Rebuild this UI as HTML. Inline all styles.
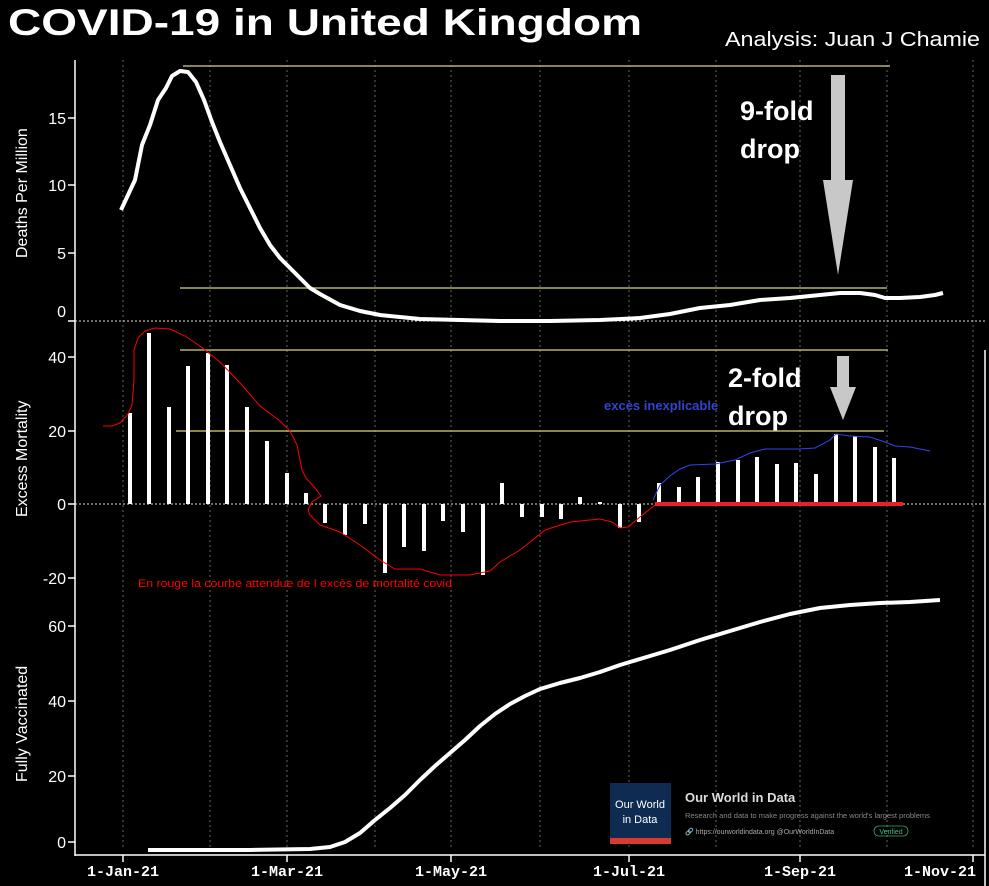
<!DOCTYPE html>
<html><head><meta charset="utf-8"><style>
body{margin:0;background:#000;}
svg{display:block;font-family:"Liberation Sans",sans-serif;}
</style></head><body>
<svg width="989" height="886" viewBox="0 0 989 886" xmlns="http://www.w3.org/2000/svg">
<rect width="989" height="886" fill="#000"/>
<g stroke="#666" stroke-width="1" stroke-dasharray="2,3">
<line x1="123" y1="60" x2="123" y2="850"/><line x1="210" y1="60" x2="210" y2="850"/>
<line x1="287" y1="60" x2="287" y2="850"/><line x1="375" y1="60" x2="375" y2="850"/>
<line x1="451" y1="60" x2="451" y2="850"/><line x1="540" y1="60" x2="540" y2="850"/>
<line x1="629" y1="60" x2="629" y2="850"/><line x1="716" y1="60" x2="716" y2="850"/>
<line x1="800" y1="60" x2="800" y2="850"/><line x1="887" y1="60" x2="887" y2="850"/>
<line x1="973" y1="60" x2="973" y2="850"/>
</g>
<line x1="75" y1="60" x2="75" y2="856" stroke="#fff" stroke-width="1.5"/>
<line x1="75" y1="855" x2="985" y2="855" stroke="#fff" stroke-width="1.5"/>
<line x1="985" y1="350" x2="985" y2="886" stroke="#fff" stroke-width="1.5"/>
<g stroke="#fff" stroke-width="1.5">
<line x1="68" y1="118" x2="75" y2="118"/><line x1="68" y1="185" x2="75" y2="185"/><line x1="68" y1="253" x2="75" y2="253"/><line x1="68" y1="321" x2="75" y2="321"/>
<line x1="68" y1="357" x2="75" y2="357"/><line x1="68" y1="431" x2="75" y2="431"/><line x1="68" y1="504" x2="75" y2="504"/><line x1="68" y1="578" x2="75" y2="578"/>
<line x1="68" y1="626" x2="75" y2="626"/><line x1="68" y1="701" x2="75" y2="701"/><line x1="68" y1="776" x2="75" y2="776"/><line x1="68" y1="842" x2="75" y2="842"/>
<line x1="123" y1="855" x2="123" y2="862"/><line x1="287" y1="855" x2="287" y2="862"/><line x1="451" y1="855" x2="451" y2="862"/><line x1="629" y1="855" x2="629" y2="862"/><line x1="800" y1="855" x2="800" y2="862"/><line x1="973" y1="855" x2="973" y2="862"/>
</g>
<line x1="75" y1="321" x2="985" y2="321" stroke="#ddd" stroke-width="1" stroke-dasharray="2,2"/>
<line x1="75" y1="504" x2="985" y2="504" stroke="#ddd" stroke-width="1" stroke-dasharray="2,2"/>
<g fill="#fff" font-size="16" text-anchor="end">
<text x="66" y="124">15</text><text x="66" y="191">10</text><text x="66" y="259">5</text><text x="66" y="317">0</text>
<text x="66" y="363">40</text><text x="66" y="437">20</text><text x="66" y="510">0</text><text x="66" y="584">-20</text>
<text x="66" y="632">60</text><text x="66" y="707">40</text><text x="66" y="782">20</text><text x="66" y="848">0</text>
</g>
<g fill="#fff" font-size="15" font-weight="bold" text-anchor="middle" font-family="Liberation Mono,monospace">
<text x="123" y="876">1-Jan-21</text><text x="287" y="876">1-Mar-21</text><text x="451" y="876">1-May-21</text><text x="629" y="876">1-Jul-21</text><text x="800" y="876">1-Sep-21</text><text x="940" y="876">1-Nov-21</text>
</g>
<g fill="#fff" font-size="16">
<text transform="translate(27,258) rotate(-90)">Deaths Per Million</text>
<text transform="translate(27,517) rotate(-90)">Excess Mortality</text>
<text transform="translate(27,782) rotate(-90)">Fully Vaccinated</text>
</g>
<text x="8" y="35" fill="#fff" font-size="37" font-weight="bold" textLength="634" lengthAdjust="spacingAndGlyphs">COVID-19 in United Kingdom</text>
<text x="725" y="46" fill="#fff" font-size="20" textLength="255" lengthAdjust="spacingAndGlyphs">Analysis: Juan J Chamie</text>
<g stroke="#b8b264" stroke-width="1.5">
<line x1="183" y1="66" x2="890" y2="66"/><line x1="180" y1="288" x2="887" y2="288"/>
<line x1="180" y1="350" x2="888" y2="350"/><line x1="176" y1="431" x2="884" y2="431"/>
</g>
<polyline fill="none" stroke="#fff" stroke-width="4" stroke-linejoin="round" points="121,210 128,195 135,180 142,145 150,125 158,100 166,88 172,76 180,71 188,72 196,82 204,100 212,122 220,142 230,165 240,188 250,208 260,228 270,245 280,258 290,268 300,278 310,288 320,294 340,305 360,311 380,315 420,319 460,320 500,321 550,321 600,320 640,318 670,314 700,308 730,305 760,300 790,298 820,295 840,293 860,293 875,295 885,298 900,298 920,297 935,295 943,293"/>
<g fill="#fff">
<rect x="128" y="413" width="4" height="91"/><rect x="147" y="333" width="4" height="171"/><rect x="167" y="407" width="4" height="97"/>
<rect x="186" y="366" width="4" height="138"/><rect x="206" y="353" width="4" height="151"/><rect x="225" y="365" width="4" height="139"/>
<rect x="245" y="407" width="4" height="97"/><rect x="265" y="441" width="4" height="63"/><rect x="285" y="473" width="4" height="31"/>
<rect x="304" y="493" width="4" height="11"/>
<rect x="323" y="504" width="4" height="19"/><rect x="343" y="504" width="4" height="31"/><rect x="363" y="504" width="4" height="20"/>
<rect x="383" y="504" width="4" height="69"/><rect x="402" y="504" width="4" height="43"/><rect x="422" y="504" width="4" height="47"/>
<rect x="441" y="504" width="4" height="17"/><rect x="461" y="504" width="4" height="28"/><rect x="481" y="504" width="4" height="71"/>
<rect x="500" y="483" width="4" height="21"/><rect x="520" y="504" width="4" height="13"/><rect x="540" y="504" width="4" height="13"/>
<rect x="559" y="504" width="4" height="15"/><rect x="578" y="497" width="4" height="7"/><rect x="598" y="502" width="4" height="2"/>
<rect x="618" y="504" width="4" height="24"/><rect x="637" y="504" width="4" height="18"/><rect x="657" y="483" width="4" height="21"/>
<rect x="677" y="487" width="4" height="17"/><rect x="696" y="477" width="4" height="27"/><rect x="716" y="462" width="4" height="42"/>
<rect x="736" y="460" width="4" height="44"/><rect x="755" y="457" width="4" height="47"/><rect x="775" y="464" width="4" height="40"/>
<rect x="794" y="463" width="4" height="41"/><rect x="814" y="474" width="4" height="30"/><rect x="834" y="434" width="4" height="70"/>
<rect x="853" y="436" width="4" height="68"/><rect x="873" y="447" width="4" height="57"/><rect x="892" y="458" width="4" height="46"/>
</g>
<polyline fill="none" stroke="#f00" stroke-width="1" points="103,426 112,426 120,423 128,414 132,405 134,380 134,350 138,338 145,331 155,328 170,329 185,336 200,346 220,362 240,383 260,406 280,421 290,431 297,445 302,470 306,478 315,488 321,496 312,502 308,510 310,515 320,525 340,532 360,545 380,560 395,569 420,569 440,575 470,575 490,571 500,562 520,550 545,530 570,522 600,519 612,522 620,528 628,527 640,517 655,505"/>
<line x1="655" y1="504" x2="903" y2="504" stroke="#e8202a" stroke-width="4"/>
<polyline fill="none" stroke="#3344ee" stroke-width="1" points="653,500 660,485 670,476 680,469 690,465 715,464 735,460 750,453 765,449 800,449 815,448 830,440 836,434 850,436 870,437 885,442 895,446 910,447 930,451"/>
<text x="604" y="410" fill="#3344cc" font-size="13" font-weight="bold">excès inexplicable</text>
<text x="138" y="587" fill="#f00" font-size="11" textLength="314" lengthAdjust="spacingAndGlyphs">En rouge la courbe attendue de l excès de mortalité covid</text>
<polyline fill="none" stroke="#fff" stroke-width="4" stroke-linejoin="round" points="148,850 250,850 310,849 330,847 345,842 360,833 375,820 390,808 405,795 420,780 435,766 450,753 465,740 480,726 495,714 510,704 525,696 540,689 560,683 580,678 600,672 620,665 640,659 670,650 700,640 730,631 760,622 790,614 820,608 850,605 880,603 910,602 940,600"/>
<polygon fill="#c8c8c8" points="831,75 845,75 845,180 853,180 838,275 823,180 831,180"/>
<polygon fill="#c8c8c8" points="837,356 849,356 849,387 856,387 843,420 830,387 837,387"/>
<g fill="#fff" font-weight="bold" font-size="27">
<text x="740" y="120">9-fold</text><text x="740" y="158">drop</text>
<text x="728" y="387">2-fold</text><text x="728" y="425">drop</text>
</g>
<rect x="610" y="783" width="61" height="61" fill="#0f2b52"/>
<rect x="610" y="838" width="61" height="6" fill="#d73b30"/>
<text x="640" y="808" fill="#fff" font-size="11" text-anchor="middle">Our World</text>
<text x="640" y="823" fill="#fff" font-size="11" text-anchor="middle">in Data</text>
<text x="685" y="802" fill="#ddd" font-size="13" font-weight="bold">Our World in Data</text>
<text x="685" y="818" fill="#888" font-size="7.5">Research and data to make progress against the world's largest problems</text>
<text x="685" y="834" fill="#aaa" font-size="7">🔗 https://ourworldindata.org    @OurWorldInData</text>
<rect x="874" y="826" width="34" height="10" rx="5" fill="none" stroke="#3a6" stroke-width="0.8"/>
<text x="891" y="834" fill="#4b8" font-size="7" text-anchor="middle">Verified</text>
</svg>
</body></html>
